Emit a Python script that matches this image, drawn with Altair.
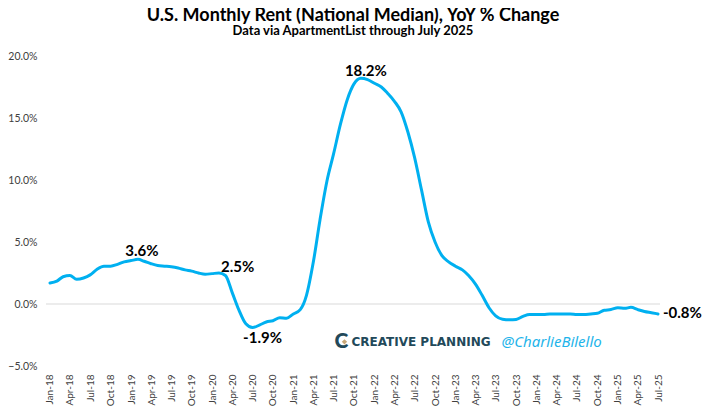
import altair as alt
import pandas as pd

# ---- data ----
yoy = [
    # 2018
    1.7, 1.85, 2.2, 2.3, 2.0, 2.1, 2.35, 2.8, 3.05, 3.05, 3.2, 3.4,
    # 2019
    3.5, 3.6, 3.45, 3.25, 3.1, 3.05, 3.0, 2.9, 2.75, 2.65, 2.5, 2.4,
    # 2020
    2.45, 2.5, 2.3, 0.9, -0.5, -1.6, -1.9, -1.7, -1.45, -1.35, -1.1, -1.15,
    # 2021
    -0.8, -0.45, 0.7, 3.4, 6.8, 9.9, 12.1, 14.5, 16.5, 17.75, 18.2, 18.1,
    # 2022
    17.8, 17.5, 17.0, 16.35, 15.5, 13.85, 11.8, 9.2, 6.6, 5.0, 3.9, 3.4,
    # 2023
    3.05, 2.75, 2.3, 1.6, 0.7, -0.3, -0.95, -1.23, -1.28, -1.25, -1.0, -0.85,
    # 2024
    -0.85, -0.85, -0.8, -0.8, -0.8, -0.8, -0.85, -0.85, -0.8, -0.75, -0.5, -0.45,
    # 2025
    -0.3, -0.35, -0.27, -0.45, -0.6, -0.7, -0.8,
]
month_dates = [f"{2018 + i // 12}/{i % 12 + 1:02d}/01" for i in range(len(yoy))]

ann_dates = ["2019/02/01", "2020/02/01", "2020/07/01", "2021/11/01", "2025/07/01"]
ann_vals = [3.6, 2.5, -1.9, 18.2, -0.8]
ann_text = ["3.6%", "2.5%", "-1.9%", "18.2%", "-0.8%"]

y_ticks = [-5, 0, 5, 10, 15, 20]

wm_date = ["2021/08/01"]
wm_val = [-3.05]

TITLE = "U.S. Monthly Rent (National Median), YoY % Change"
SUBTITLE = "Data via ApartmentList through July 2025"

# ---- tables ----
df = pd.DataFrame({"date": month_dates, "yoy": yoy})
ann = pd.DataFrame({"date": ann_dates, "yoy": ann_vals, "label": ann_text})
wm = pd.DataFrame({"date": wm_date, "yoy": wm_val})
zero = pd.DataFrame({"yoy": [0]})

FONT = "Lato"
LINE = "#00B0F0"

x_scale = alt.Scale(domain=[alt.DateTime(year=2017, month=12, date=14),
                            alt.DateTime(year=2025, month=7, date=10)])
y_scale = alt.Scale(domain=[-5, 20], nice=False, zero=False)

x_axis = alt.Axis(tickCount=alt.TimeIntervalStep(interval="month", step=3),
                  format="%b-%y", labelAngle=-90, labelPadding=8,
                  labelFontSize=10, labelFont=FONT, labelColor="#404040",
                  labelOverlap=False, labelFlush=False, domain=False, ticks=False,
                  grid=False, title=None)
y_axis = alt.Axis(values=y_ticks, labelExpr="format(datum.value, '.1f') + '%'",
                  labelPadding=9, labelFontSize=10.5, labelFont=FONT,
                  labelColor="#404040", domain=False, ticks=False, grid=False,
                  title=None)

x_enc = alt.X("date:T", scale=x_scale, axis=x_axis)
y_enc = alt.Y("yoy:Q", scale=y_scale, axis=y_axis)

rule = alt.Chart(zero).mark_rule(color="#D9D9D9", strokeWidth=1.2).encode(y=y_enc)

line = alt.Chart(df).mark_line(color=LINE, strokeWidth=3, interpolate="monotone",
                               strokeJoin="round", strokeCap="round").encode(x=x_enc, y=y_enc)


def label_layer(text, align, baseline, dx, dy):
    return alt.Chart(ann).transform_filter(alt.datum.label == text).mark_text(
        align=align, baseline=baseline, dx=dx, dy=dy, font=FONT, fontWeight="bold",
        fontSize=15, color="#000000").encode(x=x_enc, y=y_enc, text="label:N")


labels = [
    label_layer("3.6%", "center", "alphabetic", 4, -3),
    label_layer("2.5%", "left", "alphabetic", 2, -1),
    label_layer("-1.9%", "center", "alphabetic", 10, 15),
    label_layer("18.2%", "center", "alphabetic", 5, -2),
    label_layer("-0.8%", "left", "middle", 5, -1),
]

wm_base = alt.Chart(wm).encode(x=x_enc, y=y_enc)
logo_c = wm_base.mark_text(text="C", font=FONT, fontWeight=900, fontSize=21,
                           color="#22495A", align="center", baseline="middle", dx=1)
logo_d = wm_base.mark_point(shape="diamond", filled=True, size=28, color="#C8A878",
                            opacity=1, xOffset=4)
wm_text1 = wm_base.mark_text(text="CREATIVE PLANNING", font="DejaVu Sans", fontWeight="bold",
                             fontSize=12, color="#22495A", align="left", baseline="middle",
                             dx=11)
wm_text2 = wm_base.mark_text(text="@CharlieBilello", font="Noto Sans", fontStyle="italic",
                             fontSize=15, color="#1EB4EA", align="left", baseline="middle",
                             dx=161)

chart = alt.layer(rule, line, *labels, logo_c, logo_d, wm_text1, wm_text2).properties(
    width=614, height=310,
    autosize=alt.AutoSizeParams(type="none"),
    padding={"left": 38, "top": 48, "right": 42, "bottom": 40},
    title=alt.TitleParams(TITLE, subtitle=SUBTITLE, anchor="middle", font=FONT,
                          fontSize=18, fontWeight="bold", color="#000000",
                          subtitleFont=FONT, subtitleFontSize=13,
                          subtitleFontWeight="bold", subtitleColor="#000000",
                          subtitlePadding=0.5, offset=13),
).configure_view(stroke=None)

chart.save("out.html", embed_options={"renderer": "svg", "actions": False})
